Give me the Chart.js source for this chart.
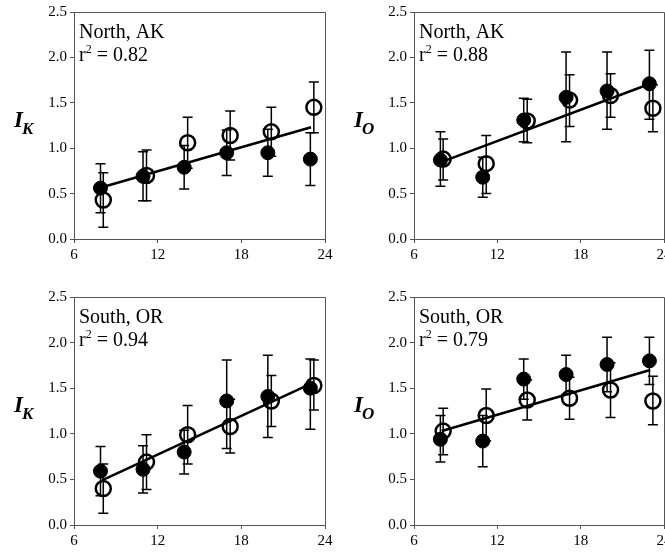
<!DOCTYPE html>
<html>
<head>
<meta charset="utf-8">
<script src="https://cdn.jsdelivr.net/npm/chart.js@4.4.1/dist/chart.umd.min.js"></script>
<style>
  html, body { margin: 0; padding: 0; background: #fff; width: 665px; height: 554px; overflow: hidden; }
  .panel { position: absolute; }
</style>
</head>
<body>
<div class="panel" style="left:0;top:0"><canvas id="p0" width="340" height="270"></canvas></div>
<div class="panel" style="left:340px;top:0"><canvas id="p1" width="340" height="270"></canvas></div>
<div class="panel" style="left:0;top:270px"><canvas id="p2" width="340" height="284"></canvas></div>
<div class="panel" style="left:340px;top:270px"><canvas id="p3" width="340" height="284"></canvas></div>

<script>
// ========== DATA ==========
const xTicks = [6, 12, 18, 24];
const yTicks = [0.0, 0.5, 1.0, 1.5, 2.0, 2.5];

const xFilled = [7.9, 10.95, 13.9, 16.95, 19.9, 22.95];
const xOpen = [8.1, 11.2, 14.15, 17.2, 20.15, 23.2];
const xLine = [8, 23];

const sites = ['North, AK', 'North, AK', 'South, OR', 'South, OR'];
const r2 = ['0.82', '0.88', '0.94', '0.79'];
const subs = ['K', 'O', 'K', 'O'];

// North, AK - I_K
const nkFilled = [0.56, 0.69, 0.79, 0.95, 0.95, 0.88];
const nkFilledLo = [0.29, 0.42, 0.55, 0.70, 0.69, 0.59];
const nkFilledHi = [0.83, 0.96, 1.03, 1.20, 1.21, 1.17];
const nkOpen = [0.43, 0.70, 1.06, 1.14, 1.18, 1.45];
const nkOpenLo = [0.13, 0.42, 0.78, 0.87, 0.91, 1.17];
const nkOpenHi = [0.73, 0.98, 1.34, 1.41, 1.45, 1.73];
const nkLine = [0.57, 1.23];

// North, AK - I_O
const noFilled = [0.87, 0.68, 1.31, 1.56, 1.63, 1.71];
const noFilledLo = [0.58, 0.46, 1.07, 1.07, 1.21, 1.32];
const noFilledHi = [1.18, 0.90, 1.55, 2.06, 2.06, 2.08];
const noOpen = [0.88, 0.83, 1.30, 1.53, 1.58, 1.44];
const noOpenLo = [0.65, 0.50, 1.06, 1.24, 1.34, 1.18];
const noOpenHi = [1.10, 1.14, 1.54, 1.81, 1.82, 1.70];
const noLine = [0.85, 1.71];

// South, OR - I_K
const skFilled = [0.59, 0.61, 0.80, 1.36, 1.41, 1.50];
const skFilledLo = [0.32, 0.35, 0.56, 0.84, 0.96, 1.05];
const skFilledHi = [0.86, 0.87, 1.04, 1.81, 1.86, 1.82];
const skOpen = [0.40, 0.69, 0.99, 1.08, 1.36, 1.53];
const skOpenLo = [0.13, 0.39, 0.67, 0.79, 1.08, 1.26];
const skOpenHi = [0.67, 0.99, 1.31, 1.38, 1.64, 1.81];
const skLine = [0.49, 1.55];

// South, OR - I_O
const soFilled = [0.94, 0.92, 1.60, 1.65, 1.76, 1.80];
const soFilledLo = [0.69, 0.64, 1.38, 1.43, 1.46, 1.54];
const soFilledHi = [1.20, 1.20, 1.82, 1.86, 2.06, 2.06];
const soOpen = [1.03, 1.20, 1.37, 1.39, 1.48, 1.36];
const soOpenLo = [0.77, 0.92, 1.15, 1.16, 1.18, 1.10];
const soOpenHi = [1.28, 1.49, 1.59, 1.62, 1.78, 1.63];
const soLine = [1.03, 1.70];

// ========== PANELS ==========
const panels = [
  { filled: [nkFilled, nkFilledLo, nkFilledHi], open: [nkOpen, nkOpenLo, nkOpenHi], line: nkLine },
  { filled: [noFilled, noFilledLo, noFilledHi], open: [noOpen, noOpenLo, noOpenHi], line: noLine },
  { filled: [skFilled, skFilledLo, skFilledHi], open: [skOpen, skOpenLo, skOpenHi], line: skLine },
  { filled: [soFilled, soFilledLo, soFilledHi], open: [soOpen, soOpenLo, soOpenHi], line: soLine }
];

// plot area placement inside each canvas
const layouts = [
  { top: 11, right: 15, xh: 31 },
  { top: 11, right: 16, xh: 31 },
  { top: 27, right: 15, xh: 29 },
  { top: 27, right: 16, xh: 29 }
];

const SERIF = "'Liberation Serif', 'Times New Roman', serif";
const AXIS = '#555';

function align(v) { return Math.round(v - 0.5) + 0.5; }

function makePlugins(i) {
  const p = panels[i];

  const errorBars = {
    id: 'errorBars' + i,
    beforeDatasetsDraw(chart) {
      const { ctx, scales: { x, y } } = chart;
      const sets = [[xFilled, p.filled[1], p.filled[2]], [xOpen, p.open[1], p.open[2]]];
      ctx.save();
      ctx.strokeStyle = '#000';
      ctx.lineWidth = 1.5;
      sets.forEach(([xs, lo, hi]) => {
        xs.forEach((xv, k) => {
          const px = x.getPixelForValue(xv);
          const t = y.getPixelForValue(hi[k]);
          const b = y.getPixelForValue(lo[k]);
          ctx.beginPath();
          ctx.moveTo(px, t); ctx.lineTo(px, b);
          ctx.moveTo(px - 5, t); ctx.lineTo(px + 5, t);
          ctx.moveTo(px - 5, b); ctx.lineTo(px + 5, b);
          ctx.stroke();
        });
      });
      ctx.restore();
    }
  };

  const frameAndText = {
    id: 'frameText' + i,
    afterDraw(chart) {
      const { ctx, chartArea: a } = chart;
      ctx.save();
      // top and right edges of the box
      ctx.strokeStyle = AXIS;
      ctx.lineWidth = 1;
      ctx.beginPath();
      ctx.moveTo(align(a.left), align(a.top));
      ctx.lineTo(align(a.right), align(a.top));
      ctx.lineTo(align(a.right), align(a.bottom));
      ctx.stroke();

      // site name and r^2
      ctx.fillStyle = '#000';
      ctx.textBaseline = 'alphabetic';
      ctx.textAlign = 'left';
      let tx = a.left + 5;
      ctx.font = '20px ' + SERIF;
      ctx.fillText(sites[i], tx, a.top + 26);
      const by = a.top + 49;
      ctx.fillText('r', tx, by);
      tx += ctx.measureText('r').width;
      ctx.font = '12px ' + SERIF;
      ctx.fillText('2', tx, by - 8);
      tx += ctx.measureText('2').width;
      ctx.font = '20px ' + SERIF;
      ctx.fillText(' = ' + r2[i], tx, by);

      // y axis title I with subscript
      const ix = a.left - 60;
      const iy = a.top + 115;
      ctx.font = 'italic bold 23px ' + SERIF;
      ctx.fillText('I', ix, iy);
      const iw = ctx.measureText('I').width;
      ctx.font = 'italic bold 17px ' + SERIF;
      ctx.fillText(subs[i], ix + iw - 1, iy + 7);
      ctx.restore();
    }
  };

  return [errorBars, frameAndText];
}

function buildChart(i) {
  const p = panels[i];
  const lay = layouts[i];
  const tickFont = { family: SERIF, size: 15 };

  new Chart(document.getElementById('p' + i), {
    type: 'scatter',
    data: {
      datasets: [
        {
          type: 'line',
          data: xLine.map((x, k) => ({ x, y: p.line[k] })),
          borderColor: '#000',
          borderWidth: 2.5,
          pointRadius: 0,
          fill: false
        },
        {
          data: xFilled.map((x, k) => ({ x, y: p.filled[0][k] })),
          backgroundColor: '#000',
          borderColor: '#000',
          borderWidth: 1,
          pointRadius: 7
        },
        {
          data: xOpen.map((x, k) => ({ x, y: p.open[0][k] })),
          backgroundColor: 'rgba(0,0,0,0)',
          borderColor: '#000',
          borderWidth: 2.5,
          pointRadius: 7.5
        }
      ]
    },
    options: {
      responsive: false,
      animation: false,
      events: [],
      layout: { padding: { top: lay.top, right: lay.right, left: 0, bottom: 0 } },
      plugins: { legend: { display: false }, tooltip: { enabled: false } },
      scales: {
        x: {
          type: 'linear',
          min: 6,
          max: 24,
          afterBuildTicks: s => { s.ticks = xTicks.map(v => ({ value: v })); },
          afterFit: s => { s.height = lay.xh; },
          ticks: { font: tickFont, color: '#000', padding: 3, autoSkip: false, maxRotation: 0 },
          grid: { drawOnChartArea: false, drawTicks: true, tickLength: 4, color: AXIS },
          border: { display: true, color: AXIS, width: 1 }
        },
        y: {
          min: 0,
          max: 2.5,
          afterBuildTicks: s => { s.ticks = yTicks.map(v => ({ value: v })); },
          afterFit: s => { s.width = 74; },
          ticks: { font: tickFont, color: '#000', padding: 3, autoSkip: false, callback: v => v.toFixed(1) },
          grid: { drawOnChartArea: false, drawTicks: true, tickLength: 4, color: AXIS },
          border: { display: true, color: AXIS, width: 1 }
        }
      }
    },
    plugins: makePlugins(i)
  });
}

document.addEventListener('DOMContentLoaded', () => {
  panels.forEach((p, i) => buildChart(i));
});
</script>
</body>
</html>
